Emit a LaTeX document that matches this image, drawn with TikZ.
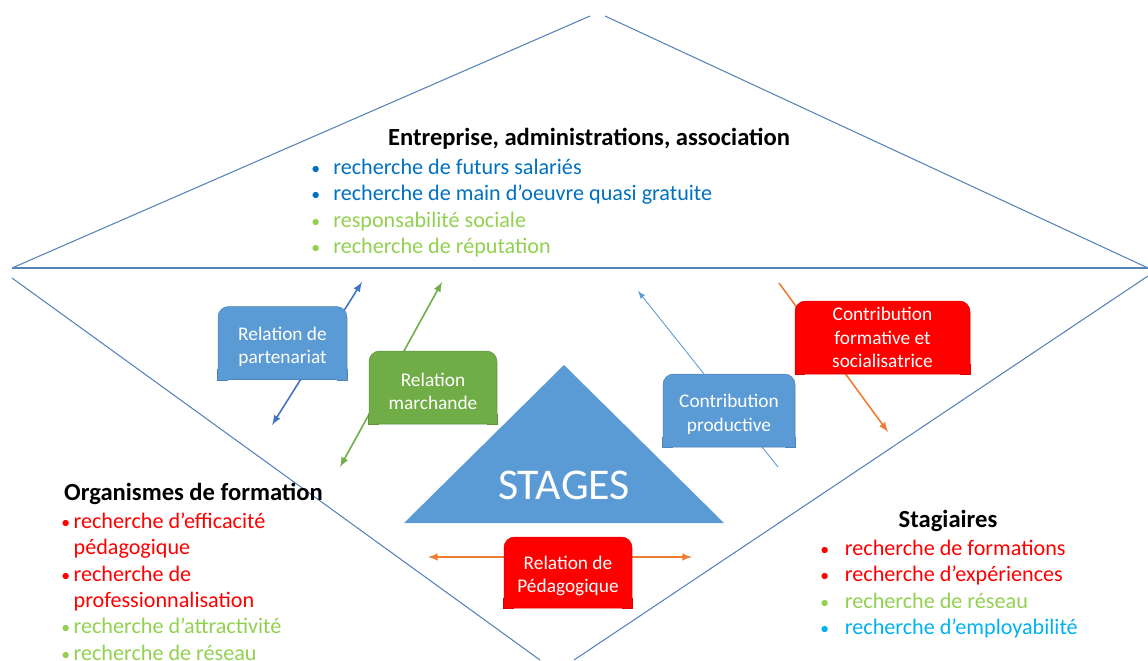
\documentclass[tikz,border=0pt]{standalone}
\usepackage{fontspec}
\setmainfont{Carlito}
\usetikzlibrary{arrows}

\definecolor{framecol}{RGB}{84,130,185}
\definecolor{boxblue}{RGB}{91,155,213}
\definecolor{boxgreen}{RGB}{112,173,71}
\definecolor{boxred}{RGB}{255,0,0}
\definecolor{arrblue}{RGB}{68,114,196}
\definecolor{arrorange}{RGB}{237,125,49}
\definecolor{txtblue}{RGB}{0,112,192}
\definecolor{txtgreen}{RGB}{146,208,80}
\definecolor{txtcyan}{RGB}{0,176,240}

\tikzset{
  frame/.style={draw=framecol,line width=0.6pt},
  relbox/.style={fill=#1,draw=#1!85!black,line width=0.3pt,rounded corners=6pt,
    minimum height=1.46cm,align=center,text=white,inner sep=1pt,
    font=\fontsize{11}{13.2}\selectfont},
  head/.style={font=\fontsize{14}{16}\bfseries},
  listtext/.style={anchor=north west,inner sep=0pt,font=\fontsize{12.6}{15}\selectfont},
}

% square off the two lower corners of a box
\newcommand{\flatbottom}[2]{%
  \filldraw[fill=#2,draw=#2!85!black,line width=0.3pt]
    ([yshift=6pt]#1.south west) -- (#1.south west) -- ([xshift=6pt]#1.south west);
  \filldraw[fill=#2,draw=#2!85!black,line width=0.3pt]
    ([yshift=6pt]#1.south east) -- (#1.south east) -- ([xshift=-6pt]#1.south east);
}
% one bullet of a list
\newcommand{\bul}[2]{\makebox[#1][l]{\color{#2}\scalebox{0.8}{•}}}
% a little more room above the first line of a box
\newcommand{\topgap}{\rule{0pt}{12pt}}

\begin{document}
\begin{tikzpicture}[x=0.02cm,y=-0.02cm]
    \useasboundingbox (0,0) rectangle (1148,660);

    % the two halves of the frame
    \draw [frame] (12,268) -- (590,16);
    \draw [frame] (605,16) -- (1148,268);
    \draw [frame] (12,268) -- (1148,268);
    \draw [frame] (12,278) -- (540,660);
    \draw [frame] (1148,276) -- (574,660);

    % the arrows, behind the boxes
    \coordinate (partA) at (272,425);
    \coordinate (partB) at (362,282);
    \coordinate (marchA) at (340,467);
    \coordinate (marchB) at (442,282);
    \coordinate (prodA) at (778,467);
    \coordinate (prodB) at (638,291);
    \coordinate (formA) at (779,283);
    \coordinate (formB) at (888,432);
    \coordinate (pedaA) at (428,557);
    \coordinate (pedaB) at (692,557);
    \draw [arrblue,line width=0.9pt,latex-latex] (partA) -- (partB);
    \draw [boxgreen,line width=0.9pt,latex-latex] (marchA) -- (marchB);
    \draw [boxblue,line width=0.5pt,-latex] (prodA) -- (prodB);
    \draw [arrorange,line width=0.9pt,-latex] (formA) -- (formB);
    \draw [arrorange,line width=0.9pt,latex-latex] (pedaA) -- (pedaB);

    % STAGES
    \fill [boxblue] (404,523) -- (564,365) -- (724,523) -- cycle;
    \node [text=white,font=\fontsize{25}{28}\selectfont] (stages) at (564,485) {STAGES};

    % the boxes
    \node [relbox=boxblue,minimum width=2.58cm] (part) at (282.5,343) {\topgap Relation de\\partenariat};
    \flatbottom{part}{boxblue}
    \node [relbox=boxgreen,minimum width=2.56cm] (march) at (433,387.5) {\topgap Relation\\marchande};
    \flatbottom{march}{boxgreen}
    \node [relbox=boxblue,minimum width=2.64cm] (prod) at (729,410.5) {\topgap Contribution\\productive};
    \flatbottom{prod}{boxblue}
    \node [relbox=boxred,minimum width=3.5cm] (form) at (882.5,337.5) {Contribution\\formative et\\socialisatrice};
    \flatbottom{form}{boxred}
    \node [relbox=boxred,minimum width=2.56cm,minimum height=1.42cm] (peda) at (568,572.5) {\topgap Relation de\\Pédagogique};
    \flatbottom{peda}{boxred}

    % Entreprise
    \node [head,anchor=base] (enthead) at (589,145) {Entreprise, administrations, association};
    \node [listtext] (entlist) at (311,155.5) {%
      \begin{tabular}{@{}l@{}l@{}}
        \bul{12.5pt}{txtblue} & \color{txtblue}recherche de futurs salariés\\
        \bul{12.5pt}{txtblue} & \color{txtblue}recherche de main d’oeuvre quasi gratuite\\
        \bul{12.5pt}{txtgreen} & \color{txtgreen}responsabilité sociale\\
        \bul{12.5pt}{txtgreen} & \color{txtgreen}recherche de réputation
      \end{tabular}};

    % Organismes de formation
    \node [head,anchor=base west] (orghead) at (58,500) {Organismes de formation};
    \node [listtext] (orglist) at (61,509.5) {%
      \begin{tabular}{@{}l@{}l@{}}
        \bul{7pt}{boxred} & \color{boxred}recherche d’efficacité\\
         & \color{boxred}pédagogique\\
        \bul{7pt}{boxred} & \color{boxred}recherche de\\
         & \color{boxred}professionnalisation\\
        \bul{7pt}{txtgreen} & \color{txtgreen}recherche d’attractivité\\
        \bul{7pt}{txtgreen} & \color{txtgreen}recherche de réseau
      \end{tabular}};

    % Stagiaires
    \node [head,anchor=base] (stahead) at (948,527) {Stagiaires};
    \node [listtext] (stalist) at (820,536.5) {%
      \begin{tabular}{@{}l@{}l@{}}
        \bul{14pt}{boxred} & \color{boxred}recherche de formations\\
        \bul{14pt}{boxred} & \color{boxred}recherche d’expériences\\
        \bul{14pt}{txtgreen} & \color{txtgreen}recherche de réseau\\
        \bul{14pt}{txtcyan} & \color{txtcyan}recherche d’employabilité
      \end{tabular}};
\end{tikzpicture}
\end{document}
